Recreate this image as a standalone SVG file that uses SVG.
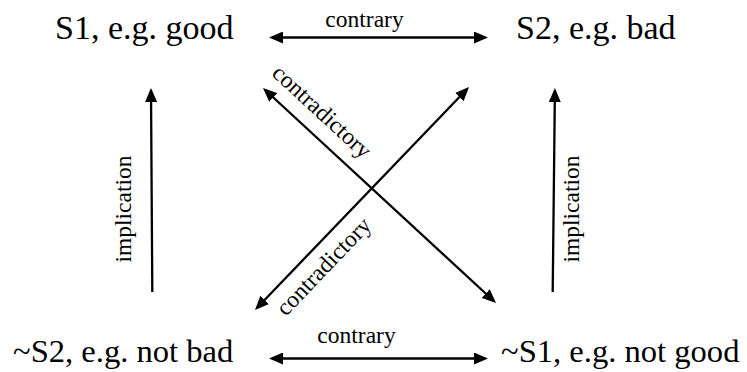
<svg xmlns="http://www.w3.org/2000/svg" width="747" height="372" viewBox="0 0 747 372">
  <style>
    .node { font-family: "Liberation Serif", "Times New Roman", serif; font-size: 34px; fill: #000; }
    .node.sm { font-size: 32.6px; }
    .lbl { font-family: "Liberation Serif", "Times New Roman", serif; font-size: 23.5px; fill: #000; }
    .edge { stroke: #000; stroke-width: 2.3; fill: none; }
  </style>
  <defs>
    <marker id="ah" viewBox="0 0 14 12" refX="11" refY="6" markerWidth="14" markerHeight="12" markerUnits="userSpaceOnUse" orient="auto-start-reverse">
      <path d="M0,0 L14,6 L0,12 z" fill="#000"/>
    </marker>
  </defs>
  <rect width="747" height="372" fill="#fff"/>

  <g id="n-s1"><text class="node" x="55" y="39">S1, e.g. good</text></g>
  <g id="n-s2"><text class="node" x="516" y="39">S2, e.g. bad</text></g>
  <g id="n-nots2"><text class="node sm" x="13" y="362">~S2, e.g. not bad</text></g>
  <g id="n-nots1"><text class="node sm" x="501" y="362">~S1, e.g. not good</text></g>

  <g id="connectors">
    <line class="edge" x1="272" y1="37.5" x2="485" y2="37.5" marker-start="url(#ah)" marker-end="url(#ah)"/>
    <text class="lbl" x="364.5" y="27" text-anchor="middle">contrary</text>

    <line class="edge" x1="272" y1="358.5" x2="485" y2="358.5" marker-start="url(#ah)" marker-end="url(#ah)"/>
    <text class="lbl" x="356.5" y="343" text-anchor="middle">contrary</text>

    <line class="edge" x1="152.3" y1="292" x2="151" y2="91" marker-end="url(#ah)"/>
    <text class="lbl" transform="translate(131,209) rotate(-90)" text-anchor="middle">implication</text>

    <line class="edge" x1="552.7" y1="292" x2="554.9" y2="91" marker-end="url(#ah)"/>
    <text class="lbl" transform="translate(579,209) rotate(-90)" text-anchor="middle">implication</text>

    <line class="edge" x1="265.2" y1="90" x2="493.8" y2="301" marker-start="url(#ah)" marker-end="url(#ah)"/>
    <text class="lbl" transform="translate(316.9,117.3) rotate(42.7)" text-anchor="middle">contradictory</text>

    <line class="edge" x1="257.1" y1="307.8" x2="466.9" y2="89.2" marker-start="url(#ah)" marker-end="url(#ah)"/>
    <text class="lbl" transform="translate(329.2,271.7) rotate(-46.2)" text-anchor="middle">contradictory</text>
  </g>
</svg>
